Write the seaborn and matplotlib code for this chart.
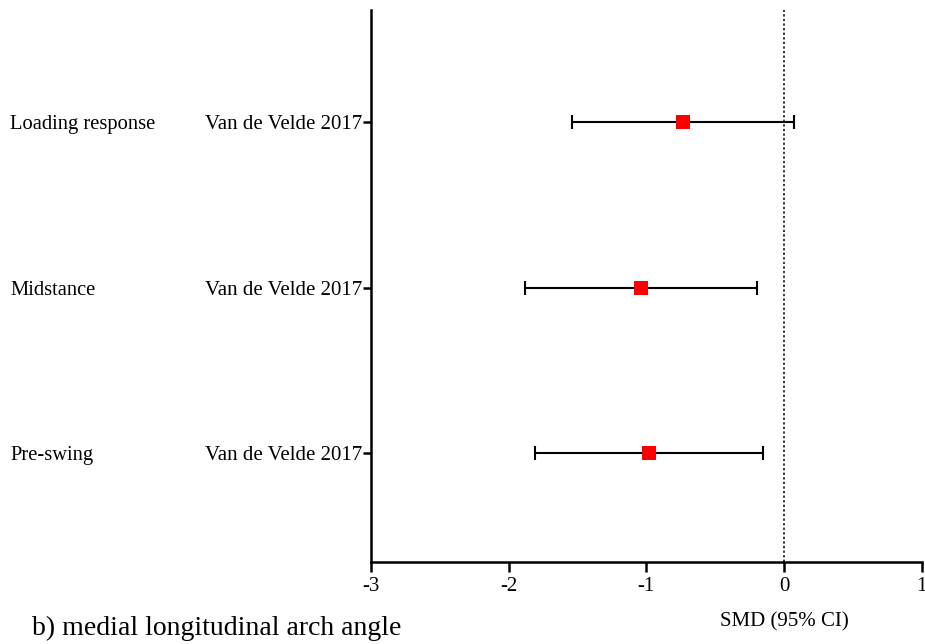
import matplotlib
matplotlib.use("Agg")
import matplotlib.pyplot as plt
import matplotlib.transforms as mtransforms
import seaborn as sns
import pandas as pd

# Forest plot data: standardized mean difference with 95% CI
phases = ["Loading response", "Midstance", "Pre-swing"]
studies = ["Van de Velde 2017", "Van de Velde 2017", "Van de Velde 2017"]
smd = [-0.735, -1.04, -0.98]
ci_low = [-1.54, -1.88, -1.81]
ci_high = [0.07, -0.20, -0.15]
x_ticks = [-3, -2, -1, 0, 1]

df = pd.DataFrame({"phase": phases, "study": studies, "smd": smd,
                   "lo": ci_low, "hi": ci_high})
df["row"] = range(1, len(df) + 1)

sns.set_theme(style="white")
plt.rcParams["font.family"] = ["Liberation Serif", "DejaVu Serif"]

fig = plt.figure(figsize=(9.25, 6.44), dpi=100)
ax = fig.add_axes([0.401, 0.1273, 0.5955, 0.8572])

# zero reference line
ax.axvline(0, color="black", linestyle=(0, (1.5, 1.5)), linewidth=1.1, zorder=1)

# confidence intervals
ax.errorbar(df["smd"], df["row"],
            xerr=[df["smd"] - df["lo"], df["hi"] - df["smd"]],
            fmt="none", ecolor="black", elinewidth=1.5, capsize=5,
            capthick=1.5, zorder=2)

# point estimates
sns.scatterplot(data=df, x="smd", y="row", marker="s", s=110, color="red",
                edgecolor="red", linewidth=0, ax=ax, zorder=3, legend=False)

ax.set_xlim(-3, 1)
ax.set_ylim(3.66, 0.32)
ax.set_xticks(x_ticks)
ax.set_xticklabels([str(t) for t in x_ticks], fontsize=15)
ax.set_yticks(df["row"])
ax.set_yticklabels(df["study"], fontsize=15)
ax.set_xlabel("")
ax.set_ylabel("")

for side in ["top", "right"]:
    ax.spines[side].set_visible(False)
for side in ["left", "bottom"]:
    ax.spines[side].set_linewidth(1.8)
    ax.spines[side].set_color("black")
ax.tick_params(axis="x", direction="out", length=7, width=1.8, pad=3.5,
               bottom=True, colors="black")
ax.tick_params(axis="y", direction="out", length=6, width=1.8, pad=0.5,
               left=True, colors="black")
ax.grid(False)

# subgroup labels at the left edge of the figure
trans = mtransforms.blended_transform_factory(fig.transFigure, ax.transData)
for _, r in df.iterrows():
    ax.text(10 / 925, r["row"], r["phase"], transform=trans, ha="left",
            va="center_baseline", fontsize=14.8, color="black")

fig.text(784 / 925, 1 - 622 / 644, "SMD (95% CI)", ha="center", va="center",
         fontsize=15, color="black")
fig.text(32 / 925, 1 - 628 / 644, "b) medial longitudinal arch angle",
         ha="left", va="center", fontsize=20, color="black")

fig.savefig("out.png", dpi=100, facecolor="white")
